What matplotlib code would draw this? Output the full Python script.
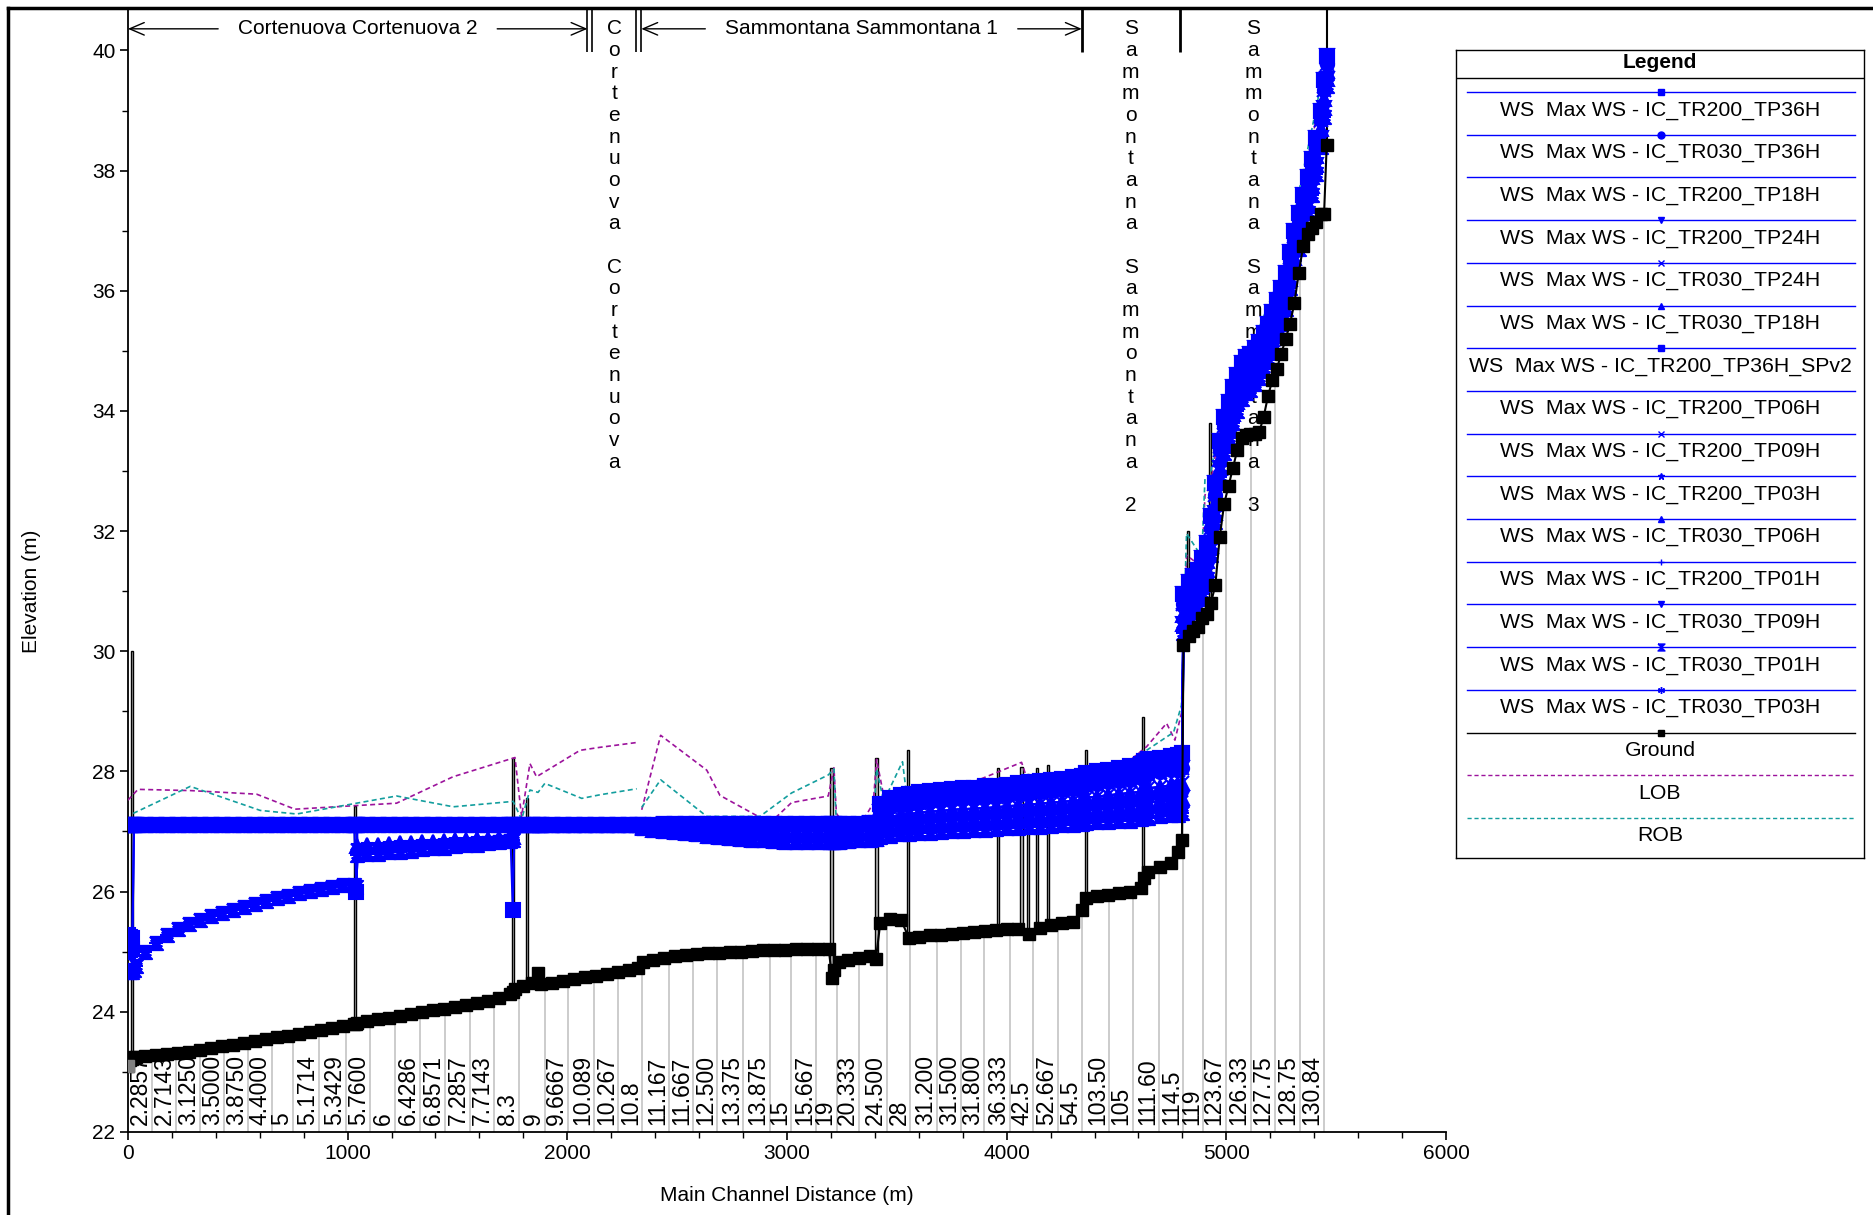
import numpy as np
import matplotlib.pyplot as plt
from matplotlib.lines import Line2D

plt.rcParams['font.family'] = ['Liberation Sans', 'DejaVu Sans']
plt.rcParams['font.size'] = 15

# ---- Cortenuova reaches, cross sections 0 - 1760 m
dist_a = [0, 10, 20, 28, 35, 80, 130, 180, 230, 280,
          330, 380, 430, 480, 530, 580, 630, 680, 730, 780,
          830, 880, 930, 980, 1030, 1040, 1045, 1090, 1140, 1190,
          1240, 1290, 1340, 1390, 1440, 1490, 1540, 1590, 1640, 1690,
          1740, 1752, 1760]
ground_a = [23.10, 23.20, 23.22, 23.24, 23.25, 23.26, 23.28, 23.29, 23.31, 23.33,
            23.36, 23.39, 23.42, 23.45, 23.48, 23.51, 23.54, 23.57, 23.60, 23.63,
            23.66, 23.69, 23.72, 23.76, 23.79, 23.80, 23.81, 23.84, 23.87, 23.90,
            23.93, 23.96, 23.99, 24.02, 24.05, 24.08, 24.11, 24.14, 24.18, 24.22,
            24.30, 24.32, 24.38]
ws_a_flat = [27.10, 27.10, 27.10, 27.10, 27.10, 27.10, 27.10, 27.10, 27.10, 27.10,
             27.10, 27.10, 27.10, 27.10, 27.10, 27.10, 27.10, 27.10, 27.10, 27.10,
             27.10, 27.10, 27.10, 27.10, 27.10, 27.10, 27.10, 27.10, 27.10, 27.10,
             27.10, 27.10, 27.10, 27.10, 27.10, 27.10, 27.10, 27.10, 27.10, 27.10,
             27.10, 27.10, 27.10]
ws_a_sq36 = [25.00, 25.02, 25.05, 27.10, 27.10, 27.10, 27.10, 27.10, 27.10, 27.10,
             27.10, 27.10, 27.10, 27.10, 27.10, 27.10, 27.10, 27.10, 27.10, 27.10,
             27.10, 27.10, 27.10, 27.10, 27.10, 27.10, 27.10, 27.10, 27.10, 27.10,
             27.10, 27.10, 27.10, 27.10, 27.10, 27.10, 27.10, 27.10, 27.10, 27.10,
             27.10, 27.10, 27.10]
ws_a_spv2 = [25.28, 25.25, 25.22, 27.10, 27.10, 27.10, 27.10, 27.10, 27.10, 27.10,
             27.10, 27.10, 27.10, 27.10, 27.10, 27.10, 27.10, 27.10, 27.10, 27.10,
             27.10, 27.10, 27.10, 27.10, 27.10, 26.00, 27.10, 27.10, 27.10, 27.10,
             27.10, 27.10, 27.10, 27.10, 27.10, 27.10, 27.10, 27.10, 27.10, 27.10,
             27.10, 25.70, 27.10]
ws_a_low = [24.68, 24.66, 24.66, 24.70, 24.76, 25.00, 25.15, 25.28, 25.38, 25.46,
            25.53, 25.59, 25.65, 25.70, 25.75, 25.80, 25.85, 25.89, 25.93, 25.97,
            26.01, 26.04, 26.07, 26.10, 26.11, 26.08, 26.60, 26.62, 26.63, 26.65,
            26.66, 26.68, 26.70, 26.72, 26.73, 26.75, 26.77, 26.78, 26.80, 26.82,
            26.84, 26.85, 27.10]
ws_a_band = [27.10, 27.10, 27.10, 27.10, 27.10, 27.10, 27.10, 27.10, 27.10, 27.10,
             27.10, 27.10, 27.10, 27.10, 27.10, 27.10, 27.10, 27.10, 27.10, 27.10,
             27.10, 27.10, 27.10, 27.10, 27.10, 27.10, 26.76, 26.77, 26.78, 26.79,
             26.80, 26.81, 26.82, 26.83, 26.84, 26.85, 26.86, 26.87, 26.88, 26.89,
             26.90, 26.91, 27.10]

# ---- 1800 - 3405 m
dist_b = [1800, 1840, 1865, 1880, 1930, 1980, 2030, 2080, 2130, 2180,
          2230, 2280, 2320, 2345, 2390, 2440, 2490, 2540, 2590, 2640,
          2690, 2740, 2790, 2840, 2890, 2940, 2990, 3040, 3090, 3140,
          3190, 3205, 3215, 3235, 3280, 3330, 3380, 3405]
ground_b = [24.42, 24.48, 24.65, 24.46, 24.48, 24.51, 24.54, 24.57, 24.60, 24.63,
            24.66, 24.69, 24.72, 24.82, 24.86, 24.89, 24.92, 24.94, 24.96, 24.97,
            24.98, 24.99, 25.00, 25.01, 25.02, 25.03, 25.03, 25.04, 25.04, 25.05,
            25.05, 24.56, 24.70, 24.82, 24.86, 24.90, 24.93, 24.88]
ws_b_flat = [27.10, 27.10, 27.10, 27.10, 27.10, 27.10, 27.10, 27.10, 27.10, 27.10,
             27.10, 27.10, 27.10, 27.11, 27.11, 27.12, 27.12, 27.12, 27.12, 27.12,
             27.12, 27.12, 27.12, 27.12, 27.12, 27.12, 27.12, 27.12, 27.12, 27.12,
             27.12, 27.12, 27.12, 27.13, 27.13, 27.13, 27.14, 27.14]
ws_b_mid = [27.10, 27.10, 27.10, 27.10, 27.10, 27.10, 27.10, 27.10, 27.10, 27.10,
            27.10, 27.10, 27.10, 27.08, 27.07, 27.06, 27.05, 27.04, 27.03, 27.02,
            27.01, 27.00, 26.99, 26.98, 26.97, 26.97, 26.96, 26.96, 26.96, 26.96,
            26.96, 26.97, 26.97, 26.98, 26.99, 27.00, 27.01, 27.02]
ws_b_dip = [27.10, 27.10, 27.10, 27.10, 27.10, 27.10, 27.10, 27.10, 27.10, 27.10,
            27.10, 27.10, 27.10, 27.06, 27.03, 27.01, 26.99, 26.97, 26.95, 26.93,
            26.91, 26.89, 26.87, 26.86, 26.85, 26.84, 26.83, 26.82, 26.82, 26.82,
            26.82, 26.82, 26.82, 26.83, 26.84, 26.85, 26.86, 26.88]

# ---- 3425 - 4798 m
dist_up = [3425, 3470, 3520, 3555, 3600, 3650, 3700, 3750, 3800, 3850,
           3900, 3950, 4000, 4050, 4100, 4150, 4200, 4250, 4300, 4345,
           4360, 4410, 4460, 4510, 4560, 4610, 4625, 4645, 4700, 4750,
           4780, 4798]
ground_up = [25.48, 25.55, 25.52, 25.23, 25.25, 25.27, 25.28, 25.30, 25.31, 25.32,
             25.34, 25.36, 25.38, 25.38, 25.30, 25.40, 25.44, 25.47, 25.50, 25.70,
             25.90, 25.93, 25.95, 25.97, 25.99, 26.05, 26.22, 26.33, 26.40, 26.48,
             26.66, 26.86]
ws_up1 = [27.45, 27.55, 27.60, 27.62, 27.65, 27.67, 27.69, 27.71, 27.72, 27.73,
          27.75, 27.76, 27.78, 27.80, 27.82, 27.84, 27.86, 27.88, 27.90, 27.92,
          27.98, 28.00, 28.03, 28.06, 28.09, 28.12, 28.18, 28.20, 28.23, 28.26,
          28.28, 28.30]
ws_up2 = [27.32, 27.40, 27.44, 27.46, 27.48, 27.50, 27.52, 27.54, 27.55, 27.56,
          27.57, 27.58, 27.60, 27.62, 27.64, 27.65, 27.67, 27.69, 27.71, 27.72,
          27.77, 27.79, 27.82, 27.84, 27.86, 27.89, 27.94, 27.96, 27.99, 28.02,
          28.03, 28.05]
ws_up3 = [27.18, 27.24, 27.28, 27.29, 27.31, 27.33, 27.34, 27.36, 27.37, 27.38,
          27.39, 27.40, 27.42, 27.43, 27.45, 27.46, 27.48, 27.49, 27.51, 27.52,
          27.56, 27.58, 27.60, 27.62, 27.64, 27.66, 27.70, 27.72, 27.74, 27.77,
          27.78, 27.80]
ws_up4 = [27.04, 27.08, 27.11, 27.12, 27.14, 27.15, 27.16, 27.18, 27.19, 27.20,
          27.21, 27.22, 27.23, 27.24, 27.26, 27.27, 27.28, 27.30, 27.31, 27.32,
          27.35, 27.36, 27.38, 27.39, 27.41, 27.43, 27.46, 27.48, 27.50, 27.52,
          27.53, 27.55]
ws_up5 = [26.90, 26.93, 26.95, 26.96, 26.97, 26.98, 26.99, 27.00, 27.01, 27.02,
          27.03, 27.04, 27.05, 27.06, 27.07, 27.08, 27.09, 27.10, 27.11, 27.12,
          27.14, 27.15, 27.16, 27.17, 27.18, 27.20, 27.22, 27.23, 27.25, 27.27,
          27.28, 27.30]

# ---- steep part 4805 - 5457 m
dist_st = [4805, 4830, 4850, 4870, 4890, 4910, 4930, 4950, 4970, 4990,
           5010, 5030, 5050, 5070, 5090, 5110, 5130, 5150, 5170, 5190,
           5210, 5230, 5250, 5270, 5290, 5310, 5330, 5350, 5370, 5390,
           5410, 5430, 5445, 5457]
ground_st = [30.10, 30.25, 30.33, 30.40, 30.55, 30.62, 30.80, 31.10, 31.90, 32.45,
             32.75, 33.05, 33.35, 33.55, 33.60, 33.62, 33.62, 33.65, 33.90, 34.25,
             34.52, 34.70, 34.95, 35.20, 35.45, 35.80, 36.30, 36.75, 36.95, 37.05,
             37.15, 37.27, 37.28, 38.43]
ws_st1 = [30.95, 31.15, 31.25, 31.35, 31.55, 31.80, 32.25, 32.80, 33.50, 33.90,
          34.15, 34.40, 34.60, 34.80, 34.90, 34.95, 35.05, 35.15, 35.30, 35.45,
          35.65, 35.85, 36.05, 36.30, 36.65, 37.00, 37.30, 37.60, 37.90, 38.20,
          38.55, 39.00, 39.50, 39.90]
ws_st2 = [30.78, 31.00, 31.10, 31.20, 31.40, 31.65, 32.05, 32.60, 33.35, 33.75,
          34.00, 34.25, 34.45, 34.65, 34.75, 34.80, 34.90, 35.00, 35.15, 35.30,
          35.50, 35.70, 35.90, 36.15, 36.50, 36.85, 37.15, 37.45, 37.75, 38.05,
          38.40, 38.85, 39.35, 39.78]
ws_st3 = [30.60, 30.85, 30.95, 31.05, 31.25, 31.50, 31.90, 32.45, 33.20, 33.60,
          33.85, 34.10, 34.30, 34.50, 34.60, 34.65, 34.75, 34.85, 35.00, 35.15,
          35.35, 35.55, 35.75, 36.00, 36.35, 36.70, 37.00, 37.30, 37.60, 37.90,
          38.25, 38.70, 39.20, 39.65]
ws_st4 = [30.45, 30.70, 30.80, 30.90, 31.10, 31.35, 31.75, 32.30, 33.05, 33.45,
          33.70, 33.95, 34.15, 34.35, 34.45, 34.50, 34.60, 34.70, 34.85, 35.00,
          35.20, 35.40, 35.60, 35.85, 36.20, 36.55, 36.85, 37.15, 37.45, 37.75,
          38.10, 38.55, 39.05, 39.52]
ws_st5 = [30.30, 30.55, 30.65, 30.75, 30.95, 31.20, 31.60, 32.15, 32.90, 33.30,
          33.55, 33.80, 34.00, 34.20, 34.30, 34.35, 34.45, 34.55, 34.70, 34.85,
          35.05, 35.25, 35.45, 35.70, 36.05, 36.40, 36.70, 37.00, 37.30, 37.60,
          37.95, 38.40, 38.90, 39.40]

# ---- bank stations
lob_dist = [0, 46, 284, 586, 760, 1223, 1480, 1762, 1792, 1830, 1860, 2058, 2149, 2316,
            2327, 2339, 2425, 2635, 2695, 2869, 2940, 3021, 3188, 3214, 3225, 3302,
            3393, 3408, 3440, 3700, 4068, 4100, 4500, 4637, 4728, 4766, 4796, 4819,
            4888, 4903, 4926, 4971, 5070, 5107, 5267, 5335, 5395, 5441, 5457]
lob_elev = [27.52, 27.70, 27.68, 27.62, 27.37, 27.47, 27.91, 28.23, 27.25, 28.13, 27.91,
            28.35, 28.40, 28.48, np.nan, 27.36, 28.60, 28.02, 27.60, 27.25, 27.20, 27.48,
            27.59, 28.06, 27.30, 26.91, 27.47, 28.20, 27.60, 27.60, 28.15, 27.80, 28.00,
            28.41, 28.80, 28.52, 28.97, 31.60, 31.40, 32.60, 32.75, 33.70, 34.90, 34.95,
            36.30, 37.60, 38.60, 39.50, 39.80]
rob_dist = [24, 284, 602, 768, 1223, 1481, 1754, 1792, 1830, 1867, 1898, 2066, 2149, 2316,
            2327, 2339, 2425, 2635, 2877, 3021, 3188, 3214, 3225, 3302, 3393, 3408,
            3440, 3526, 3545, 3800, 4100, 4500, 4637, 4760, 4796, 4819, 4888, 4903,
            4926, 4971, 5070, 5107, 5267, 5335, 5395, 5441, 5457]
rob_elev = [27.30, 27.75, 27.35, 27.29, 27.59, 27.41, 27.50, 27.20, 27.69, 27.65, 27.80,
            27.55, 27.61, 27.71, np.nan, 27.40, 27.86, 27.25, 27.25, 27.64, 27.94, 28.04,
            27.10, 26.91, 27.10, 28.04, 27.50, 28.16, 27.60, 27.60, 27.80, 28.00, 28.35,
            28.65, 29.10, 31.96, 31.57, 32.88, 32.90, 33.85, 34.96, 35.00, 36.45, 37.73,
            38.79, 39.62, 39.85]

# ---- structures (bridges / weirs)
struct_dist = [17, 1034, 1753, 1816, 3203, 3408, 3552, 3962, 4068, 4098, 4137, 4189,
               4360, 4621, 4826, 4926]
struct_top = [30.00, 27.42, 28.22, 27.55, 28.05, 28.22, 28.35, 28.05, 28.08, 27.95,
              28.05, 28.10, 28.35, 28.90, 32.00, 33.80]

# ---- river station labels
label_text = ["2.2857", "2.7143", "3.1250", "3.5000", "3.8750", "4.4000", "5", "5.1714",
              "5.3429", "5.7600", "6", "6.4286", "6.8571", "7.2857", "7.7143", "8.3", "9",
              "9.6667", "10.089", "10.267", "10.8", "11.167", "11.667", "12.500", "13.375",
              "13.875", "15", "15.667", "19", "20.333", "24.500", "28", "31.200", "31.500",
              "31.800", "36.333", "42.5", "52.667", "54.5", "103.50", "105", "111.60",
              "114.5", "119", "123.67", "126.33", "127.75", "128.75", "130.84"]
label_dist = [111, 220, 329, 438, 546, 655, 753, 872, 992, 1101, 1215, 1329, 1443, 1557,
              1666, 1780, 1899, 2003, 2122, 2231, 2340, 2465, 2573, 2682, 2802, 2921, 3019,
              3133, 3226, 3329, 3454, 3562, 3682, 3791, 3899, 4014, 4122, 4236, 4345, 4465,
              4573, 4693, 4802, 4894, 4997, 5111, 5220, 5334, 5443]

# ---- reaches
reach_names = ["Cortenuova Cortenuova 2", "Cortenuova Cortenuova", "Sammontana Sammontana 1",
               "Sammontana Sammontana 2", "Sammontana Sammontana 3"]
reach_start = [0, 2114, 2337, 4342, 4788]
reach_end = [2092, 2315, 4342, 4788, 5457]
reach_vertical = [False, True, False, True, True]

# ---- water surface profiles
profile_names = ["IC_TR200_TP36H", "IC_TR030_TP36H", "IC_TR200_TP18H", "IC_TR200_TP24H",
                 "IC_TR030_TP24H", "IC_TR030_TP18H", "IC_TR200_TP36H_SPv2", "IC_TR200_TP06H",
                 "IC_TR200_TP09H", "IC_TR200_TP03H", "IC_TR030_TP06H", "IC_TR200_TP01H",
                 "IC_TR030_TP09H", "IC_TR030_TP01H", "IC_TR030_TP03H"]
hourglass = [(-1, 1), (1, 1), (-1, -1), (1, -1), (-1, 1)]
profile_markers = ['s', 'o', '', 'v', 'x', '^', 's', '', 'x', '*', '^', '+', 'v',
                   hourglass, (6, 2, 0)]
profile_a = [ws_a_sq36, ws_a_flat, ws_a_flat, ws_a_flat, ws_a_flat, ws_a_flat, ws_a_spv2,
             ws_a_flat, ws_a_flat, ws_a_band, ws_a_band, ws_a_low, ws_a_flat, ws_a_low, ws_a_low]
profile_b = [ws_b_flat, ws_b_flat, ws_b_flat, ws_b_flat, ws_b_mid, ws_b_mid, ws_b_flat,
             ws_b_mid, ws_b_mid, ws_b_dip, ws_b_dip, ws_b_dip, ws_b_mid, ws_b_dip, ws_b_dip]
profile_up = [ws_up1, ws_up2, ws_up1, ws_up2, ws_up3, ws_up3, ws_up1, ws_up3, ws_up2,
              ws_up4, ws_up4, ws_up5, ws_up4, ws_up5, ws_up5]
profile_st = [ws_st1, ws_st2, ws_st2, ws_st1, ws_st3, ws_st3, ws_st1, ws_st3, ws_st2,
              ws_st4, ws_st4, ws_st5, ws_st4, ws_st5, ws_st5]

BLUE = '#0000ff'
LOB_COLOR = '#9c139c'
ROB_COLOR = '#139e9e'
W, H = 1874, 1215
YTOP = 40.69


def draw_reach_labels(fig, ax):
    fig.canvas.draw()
    renderer = fig.canvas.get_renderer()
    y_lab = 40.36
    arrow = dict(arrowstyle='->,head_length=0.7,head_width=0.3', lw=1, color='black',
                 shrinkA=0, shrinkB=0)
    for name, x0, x1, vert in zip(reach_names, reach_start, reach_end, reach_vertical):
        mid = (x0 + x1) / 2
        if vert:
            for i, ch in enumerate(name):
                ax.annotate(ch, xy=(mid, y_lab), xytext=(0, -15.6 * i),
                            textcoords='offset points', ha='center', va='center')
        else:
            t = ax.text(mid, y_lab, name, ha='center', va='center')
            bb = t.get_window_extent(renderer).transformed(ax.transData.inverted())
            ax.annotate('', xy=(x0, y_lab), xytext=(bb.x0 - 90, y_lab), arrowprops=arrow)
            ax.annotate('', xy=(x1, y_lab), xytext=(bb.x1 + 90, y_lab), arrowprops=arrow)
    # reach boundaries
    for i in range(len(reach_names) - 1):
        if reach_end[i] != reach_start[i + 1]:
            ax.vlines([reach_end[i], reach_start[i + 1]], 39.97, YTOP, colors='black', lw=1.2)
        else:
            ax.vlines(reach_end[i], 39.97, YTOP, colors='black', lw=2)
    ax.vlines(reach_end[-1], ground_st[-1], YTOP, colors='black', lw=1.5)


def draw_legend(fig):
    lax = fig.add_axes([1456 / W, 1 - 858 / H, 408 / W, 808 / H])
    lax.set_xlim(0, 408)
    lax.set_ylim(808, 0)
    lax.set_xticks([])
    lax.set_yticks([])
    for s in lax.spines.values():
        s.set_linewidth(1.0)
    lax.text(204, 13, 'Legend', ha='center', va='center', fontweight='bold')
    lax.plot([0, 408], [28, 28], color='black', lw=1)
    entries = [('WS  Max WS - ' + n, BLUE, '-', m) for n, m in zip(profile_names, profile_markers)]
    entries += [('Ground', 'black', '-', 's'), ('LOB', LOB_COLOR, '--', ''),
                ('ROB', ROB_COLOR, '--', '')]
    for i, (label, color, ls, mk) in enumerate(entries):
        y = 42 + i * 42.7
        lax.plot([11, 399], [y, y], color=color, ls=ls, lw=1, dashes=(3, 2) if ls == '--' else (None, None))
        if mk != '':
            lax.plot([205], [y], marker=mk, color=color, ms=5, mew=1)
        lax.text(204, y + 18, label, ha='center', va='center', fontsize=15.3)


def main():
    fig = plt.figure(figsize=(W / 100, H / 100), dpi=100)
    ax = fig.add_axes([127.9 / W, 1 - 1131.8 / H, (1446 - 127.9) / W, (1131.8 - 9) / H])
    ax.set_xlim(0, 6000)
    ax.set_ylim(22, YTOP)

    all_dist = np.concatenate([dist_a, dist_b, dist_up, dist_st])
    all_ground = np.concatenate([ground_a, ground_b, ground_up, ground_st])

    # cross section lines and labels
    tops = np.interp(label_dist, all_dist, all_ground)
    ax.vlines(label_dist, 22, tops, colors='#c8c8c8', lw=1.3, zorder=1)
    for d, t in zip(label_dist, label_text):
        ax.text(d, 22.12, t, rotation=90, ha='right', va='bottom', fontsize=16.5, zorder=2)

    # structures
    s_bottom = np.interp(struct_dist, all_dist, all_ground)
    ax.bar(struct_dist, np.array(struct_top) - s_bottom, bottom=s_bottom, width=10,
           color='#c0c0c0', edgecolor='black', lw=1, zorder=3)

    # bank stations
    ax.plot(lob_dist, lob_elev, color=LOB_COLOR, lw=1.2, dashes=(3, 2), zorder=3.5)
    ax.plot(rob_dist, rob_elev, color=ROB_COLOR, lw=1.2, dashes=(3, 2), zorder=3.5)

    # water surfaces
    for k in range(len(profile_names)):
        ys = np.concatenate([profile_a[k], profile_b[k], profile_up[k], profile_st[k]])
        mk = profile_markers[k]
        ax.plot(all_dist, ys, color=BLUE, lw=1.5, marker=mk if mk != '' else None,
                ms=9.5, mew=1.5, zorder=4)

    # ground
    ax.plot(all_dist, all_ground, color='black', lw=1.5, marker='s', ms=8, zorder=5)
    ax.plot(dist_a[0], ground_a[0], color='#808080', marker='s', ms=8, zorder=5.5)

    # axes styling
    ax.spines['top'].set_visible(False)
    ax.spines['right'].set_visible(False)
    ax.spines['left'].set_linewidth(1.3)
    ax.spines['bottom'].set_linewidth(1.3)
    ax.set_xticks(np.arange(0, 6001, 1000))
    ax.set_xticks(np.arange(0, 6001, 200), minor=True)
    ax.set_yticks(np.arange(22, 41, 2))
    ax.set_yticks(np.arange(22, 41, 1), minor=True)
    ax.tick_params(which='major', direction='out', length=6, width=1.2, labelsize=15, pad=3)
    ax.tick_params(which='minor', direction='out', length=4, width=1.0)
    ax.set_xlabel('Main Channel Distance (m)', fontsize=15)
    ax.xaxis.set_label_coords(0.5, -0.0563)
    ax.xaxis.label.set_va('center')
    ax.set_ylabel('Elevation (m)', fontsize=15)
    ax.yaxis.set_label_coords(-0.0728, 0.4817)
    ax.yaxis.label.set_va('center')

    draw_reach_labels(fig, ax)
    draw_legend(fig)

    # outer frame (left and top)
    fig.add_artist(Line2D([8 / W, 8 / W], [0, 1 - 8 / H], transform=fig.transFigure,
                          color='black', lw=2.5))
    fig.add_artist(Line2D([8 / W, 1], [1 - 8 / H, 1 - 8 / H], transform=fig.transFigure,
                          color='black', lw=2.5))

    fig.savefig('out.png', dpi=100)


if __name__ == "__main__":
    main()
